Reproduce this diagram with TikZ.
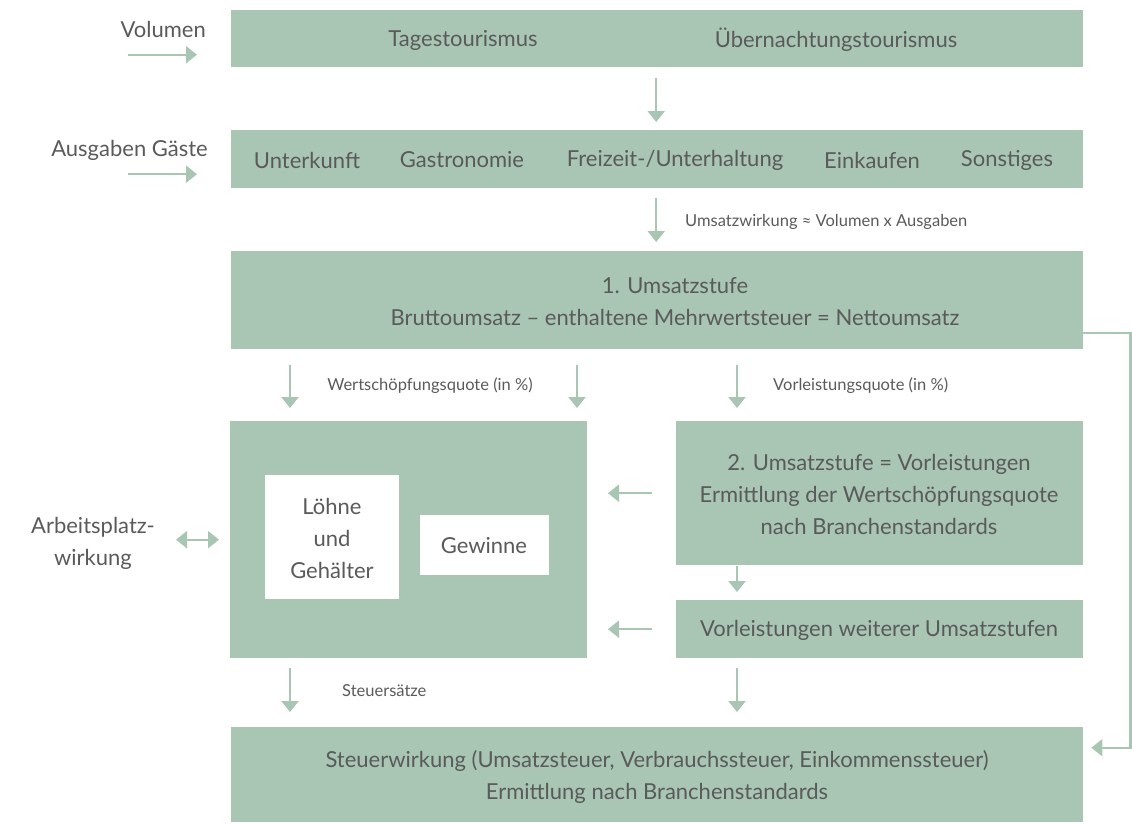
\documentclass[tikz,border=0pt]{standalone}
\usepackage{fontspec}
\setmainfont{Lato}
\usetikzlibrary{arrows.meta}
\definecolor{sage}{HTML}{A8C6B3}
\definecolor{ink}{HTML}{5A5A5A}

\begin{document}
\begin{tikzpicture}[x=1pt,y=-1pt,
  box/.style={
    fill=sage, inner sep=0pt, anchor=north west
  },
  card/.style={
    fill=white, inner sep=0pt, anchor=north west
  },
  txt/.style={
    text=ink, inner sep=0pt, align=center,
    font=\fontsize{22}{32}\selectfont
  },
  note/.style={
    text=ink, inner sep=0pt, anchor=west,
    font=\fontsize{16.5}{18}\selectfont
  },
  arr/.style={
    draw=sage, line width=2.2pt,
    -{Triangle[width=17pt,length=11pt]}
  }
]
  \useasboundingbox (0,0) rectangle (1132,823);
  % boxes
  \node[box, minimum width=852, minimum height=57] (vol) at (231,10){};
  \node[box, minimum width=852, minimum height=58] (aus) at (231,130){};
  \node[box, minimum width=852, minimum height=98] (ums) at (231,251){};
  \node[box, minimum width=357, minimum height=237] (lw) at (230,421){};
  \node[box, minimum width=407, minimum height=144] (st2) at (676,421){};
  \node[box, minimum width=407, minimum height=58] (vws) at (676,600){};
  \node[box, minimum width=852, minimum height=95] (stw) at (231,727){};
  \node[card, minimum width=134, minimum height=124] (lg) at (265,475){};
  \node[card, minimum width=129, minimum height=60] (gw) at (420,515){};
  % texts
  \foreach \x/\t in {463/Tagestourismus, 836/Übernachtungstourismus} {
    \node[txt] (v\x) at (\x,40){\t};
  }
  \foreach \x/\t in {307/Unterkunft, 462/Gastronomie,
      675/{Freizeit-/Unterhaltung}, 872/Einkaufen, 1007/Sonstiges} {
    \node[txt] (a\x) at (\x,160){\t};
  }
  \node[txt, anchor=east] (volT) at (206,29){Volumen};
  \node[txt, anchor=east] (ausT) at (208,150){Ausgaben Gäste};
  \node[txt] (umsT) at (675,302)
    {1. Umsatzstufe\\Bruttoumsatz – enthaltene Mehrwertsteuer = Nettoumsatz};
  \node[txt] (lgT) at (332,538){Löhne\\und\\Gehälter};
  \node[txt] (gwT) at (484,546){Gewinne};
  \node[txt] (apT) at (93,543){Arbeitsplatz-\\wirkung};
  \node[txt] (st2T) at (879,494)
    {2. Umsatzstufe = Vorleistungen\\Ermittlung der Wertschöpfungsquote\\nach Branchenstandards};
  \node[txt] (vwsT) at (879,630){Vorleistungen weiterer Umsatzstufen};
  \node[txt] (stwT) at (657,777)
    {Steuerwirkung (Umsatzsteuer, Verbrauchssteuer, Einkommenssteuer)\\Ermittlung nach Branchenstandards};
  \node[note] (uwN) at (685,222){Umsatzwirkung ≈ Volumen x Ausgaben};
  \node[note, anchor=center] (wsN) at (430,386){Wertschöpfungsquote (in \%)};
  \node[note] (vlN) at (773,386){Vorleistungsquote (in \%)};
  \node[note] (ssN) at (342,691){Steuersätze};
  % arrows
  \draw[arr] ([shift={(-103,16)}]vol.west) -- ([shift={(-34,16)}]vol.west);
  \draw[arr] ([shift={(-103,15)}]aus.west) -- ([shift={(-34,15)}]aus.west);
  \draw[arr] ([shift={(-1,11)}]vol.south) -- ([shift={(-1,-8)}]aus.north);
  \draw[arr] ([shift={(-1,10)}]aus.south) -- ([shift={(-1,-9)}]ums.north);
  \draw[arr] ([shift={(59,16)}]ums.south west) -- ([shift={(60,-13)}]lw.north west);
  \draw[arr] ([shift={(346,16)}]ums.south west) -- ([shift={(347,-13)}]lw.north west);
  \draw[arr] ([shift={(506,16)}]ums.south west) -- ([shift={(61,-13)}]st2.north west);
  \draw[arr] ([shift={(61,1)}]st2.south west) -- ([shift={(61,-8)}]vws.north west);
  \draw[arr] ([xshift=-24]st2.west) -- ([xshift=-68]st2.west);
  \draw[arr] ([xshift=-24]vws.west) -- ([xshift=-68]vws.west);
  \draw[arr, {Triangle[width=17pt,length=11pt]}-{Triangle[width=17pt,length=11pt]}]
    ([xshift=-11]lw.west) -- ([xshift=-54]lw.west);
  \draw[arr] ([shift={(60,10)}]lw.south west) -- ([shift={(59,-15)}]stw.north west);
  \draw[arr] ([shift={(61,10)}]vws.south west) -- ([shift={(506,-15)}]stw.north west);
  \draw[arr] ([yshift=-33]ums.east) -| ([shift={(47,-27)}]stw.east)
    -- ([shift={(8,-27)}]stw.east);
\end{tikzpicture}
\end{document}
